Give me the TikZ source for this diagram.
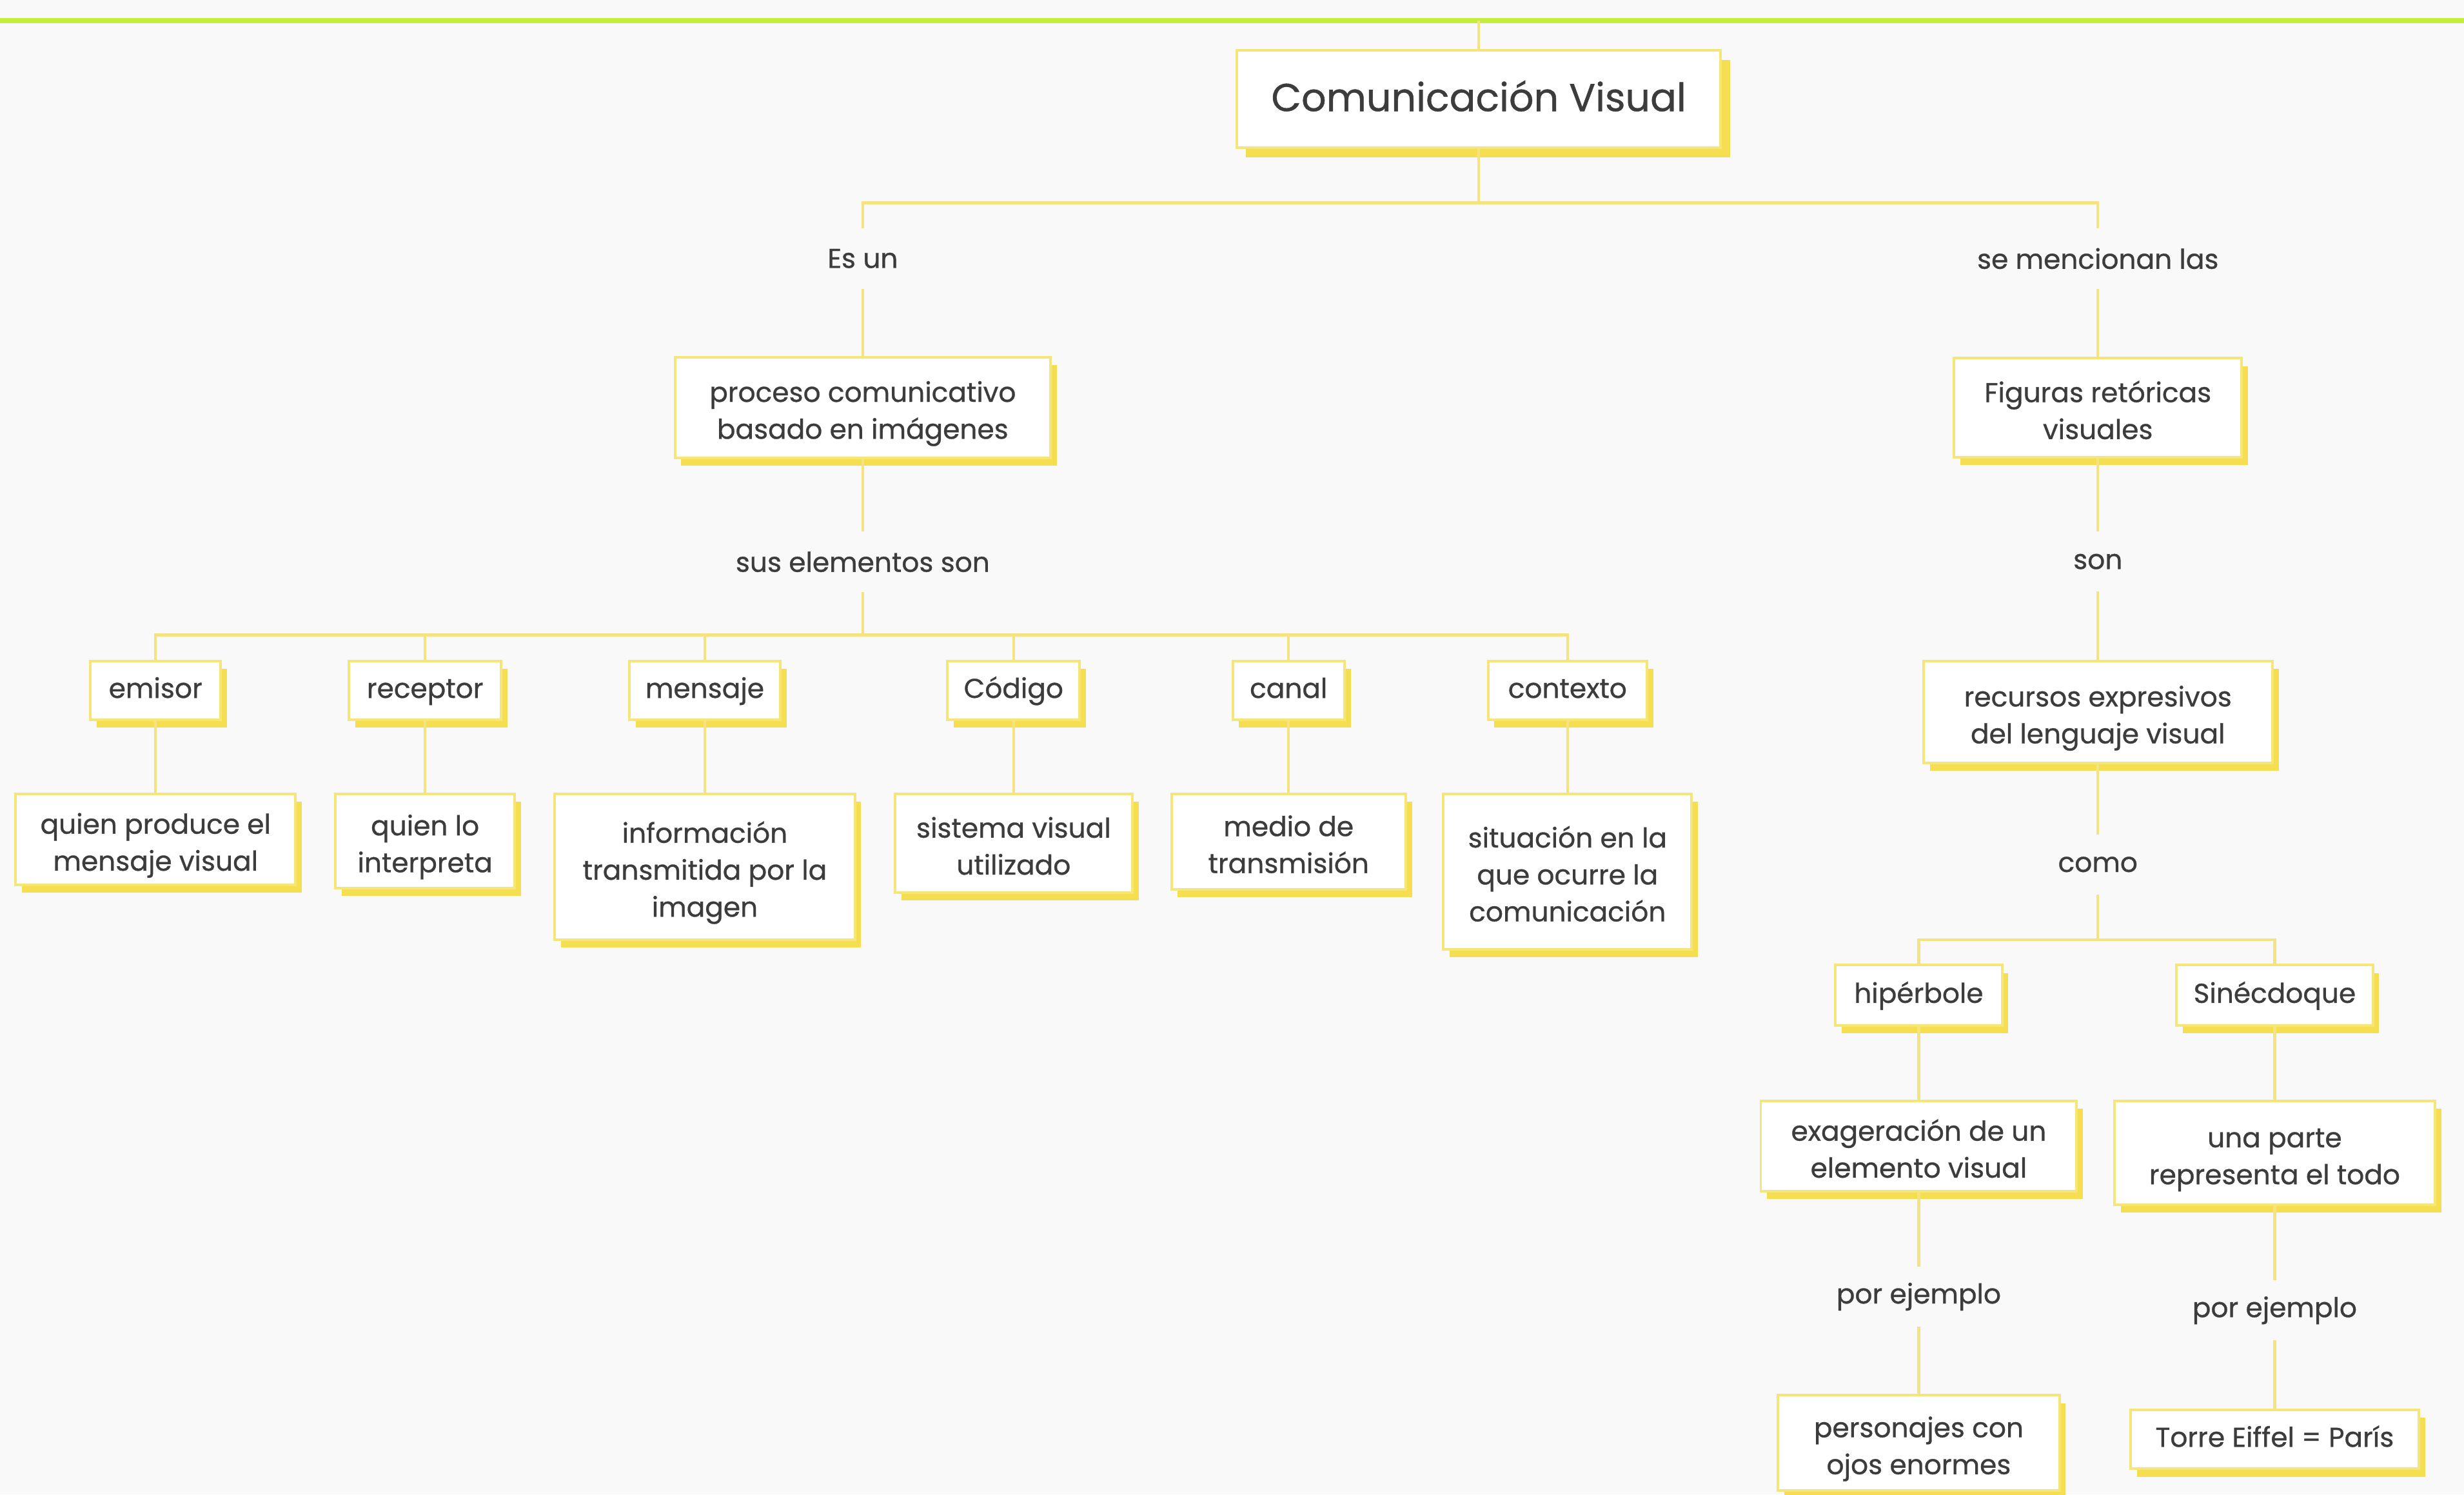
\documentclass[tikz,border=0pt]{standalone}
\usepackage{fontspec}
\setmainfont{Poppins}[FakeBold=0.7]
\usetikzlibrary{shadows}
\definecolor{bgc}{HTML}{F9F9F9}
\definecolor{limec}{HTML}{C4EE3E}
\definecolor{ybord}{HTML}{F6E578}
\definecolor{yshad}{HTML}{F5DE50}
\definecolor{yline}{HTML}{F5E381}
\definecolor{txtc}{HTML}{3C3C3C}
\newlength\refw
\newlength\refr
\AtBeginDocument{%
\settowidth{\refw}{\fontsize{10pt}{12pt}\selectfont proceso comunicativo}%
\settowidth{\refr}{\fontsize{10pt}{12pt}\selectfont Comunicación Visual}%
\pgfmathsetmacro\fsz{10*195/\refw}%
\pgfmathsetmacro\fszr{10*264/\refr}%
}
\newcommand\bstrut{\rule[-7pt]{0pt}{23.5pt}}
\newcommand\rstrut{\rule[-6.6pt]{0pt}{28.6pt}}
\newcommand\ml[1]{\begin{tabular}{@{}c@{}}\rule{0pt}{23.5pt}#1\end{tabular}}
\begin{document}
\begin{tikzpicture}[x=1pt,y=-1pt]
\tikzset{
  bodyfont/.style={font=\fontsize{\fsz pt}{23.5pt}\selectfont},
  box/.style={draw=ybord, line width=1.6pt, fill=white, text=txtc, align=center,
    inner sep=0pt, bodyfont,
    execute at begin node=\bstrut, execute at end node=\bstrut,
    drop shadow={fill=yshad, opacity=1, shadow xshift=4pt, shadow yshift=-5pt}},
  mbox/.style={draw=ybord, line width=1.6pt, fill=white, text=txtc,
    inner sep=0pt, bodyfont,
    drop shadow={fill=yshad, opacity=1, shadow xshift=4pt, shadow yshift=-5pt}},
  rootbox/.style={draw=ybord, line width=1.6pt, fill=white, text=txtc, align=center,
    inner sep=0pt, font=\fontsize{\fszr pt}{30pt}\selectfont,
    execute at begin node=\rstrut,
    drop shadow={fill=yshad, opacity=1, shadow xshift=6pt, shadow yshift=-6pt}},
  lab/.style={text=txtc, bodyfont, minimum height=38pt, inner sep=0pt, align=center},
  conn/.style={draw=yline, line width=1.8pt},
}
% background and page size
\fill[bgc] (0,0) rectangle (1568,951);
\useasboundingbox (0,0) rectangle (1568,951);
% top green line
\coordinate (gl) at (0,13);
\coordinate (gr) at (1568,13);
\draw[limec, line width=3.4pt] (gl) -- (gr);
\coordinate (g) at (941,13);

% root
\node[rootbox, minimum width=308pt, minimum height=62pt] (root) at (941,63) {Comunicación Visual};
\coordinate (j0) at (941,129);

% level 1
\node[lab] (lEs) at (549,164.5) {Es un};
\node[lab] (lSe) at (1335,164.5) {se mencionan las};
\node[mbox, minimum width=239pt, minimum height=64pt] (proc) at (549,259.2) {\ml{proceso comunicativo\\basado en imágenes}};
\node[mbox, minimum width=183pt, minimum height=63pt] (fig) at (1335,259.4) {\ml{Figuras retóricas\\visuales}};

% left branch
\node[lab] (lSus) at (549,357.5) {sus elementos son};
\coordinate (j1) at (549,404);
\node[box, minimum width=83pt, minimum height=37.5pt] (emisor) at (99,439.3) {emisor};
\node[box, minimum width=97pt, minimum height=37.5pt] (receptor) at (270.5,439.3) {receptor};
\node[box, minimum width=96pt, minimum height=37.5pt] (mensaje) at (448.5,439.3) {mensaje};
\node[box, minimum width=84pt, minimum height=37.5pt] (codigo) at (645,439.3) {Código};
\node[box, minimum width=71pt, minimum height=37.5pt] (canal) at (820,439.3) {canal};
\node[box, minimum width=101pt, minimum height=37.5pt] (contexto) at (997.5,439.3) {contexto};

\node[mbox, minimum width=178pt, minimum height=58pt] (c1) at (99,534) {\ml{quien produce el\\mensaje visual}};
\node[mbox, minimum width=114pt, minimum height=60pt] (c2) at (270.5,535) {\ml{quien lo\\interpreta}};
\node[mbox, minimum width=191pt, minimum height=93pt] (c3) at (448.5,551.5) {\ml{información\\transmitida por la\\imagen}};
\node[mbox, minimum width=151pt, minimum height=63pt] (c4) at (645,536.5) {\ml{sistema visual\\utilizado}};
\node[mbox, minimum width=149pt, minimum height=61pt] (c5) at (820,535.5) {\ml{medio de\\transmisión}};
\node[mbox, minimum width=158pt, minimum height=99pt] (c6) at (997.5,554.5) {\ml{situación en la\\que ocurre la\\comunicación}};

% right branch
\node[lab] (lSon) at (1335,357.3) {son};
\node[mbox, minimum width=222pt, minimum height=65pt] (rec) at (1335,453) {\ml{recursos expresivos\\del lenguaje visual}};
\node[lab] (lComo) at (1335,550) {como};
\coordinate (j2) at (1335,598);
\node[box, minimum width=106pt, minimum height=38.5pt] (hip) at (1221,633.3) {hipérbole};
\node[box, minimum width=125pt, minimum height=38.5pt] (sin) at (1447.5,633.3) {Sinécdoque};
\node[mbox, minimum width=201pt, minimum height=57.5pt] (exa) at (1221,729.3) {\ml{exageración de un\\elemento visual}};
\node[mbox, minimum width=204pt, minimum height=66pt] (par) at (1447.5,733.5) {\ml{una parte\\representa el todo}};
\node[lab] (lPorL) at (1221,825) {por ejemplo};
\node[lab] (lPorR) at (1447.5,833.7) {por ejemplo};
\node[mbox, minimum width=179pt, minimum height=60.5pt] (per) at (1221,918) {\ml{personajes con\\ojos enormes}};
\node[box, minimum width=183.5pt, minimum height=37.5pt] (tor) at (1447.5,915.8) {Torre Eiffel = París};

% connectors
\draw[conn] (g) -- (root.north);
\draw[conn] (root.south) -- (j0);
\draw[conn] (lEs.north) -- (lEs.north |- j0) -- (lSe.north |- j0) -- (lSe.north);
\draw[conn] (lEs.south) -- (proc.north);
\draw[conn] (lSe.south) -- (fig.north);
\draw[conn] (proc.south) -- (lSus.north);
\draw[conn] (lSus.south) -- (j1);
\draw[conn] (emisor.north) -- (emisor.north |- j1) -- (contexto.north |- j1) -- (contexto.north);
\foreach \n in {receptor,mensaje,codigo,canal}
  \draw[conn] (\n.north) -- (\n.north |- j1);
\draw[conn] (emisor.south) -- (c1.north);
\draw[conn] (receptor.south) -- (c2.north);
\draw[conn] (mensaje.south) -- (c3.north);
\draw[conn] (codigo.south) -- (c4.north);
\draw[conn] (canal.south) -- (c5.north);
\draw[conn] (contexto.south) -- (c6.north);
\draw[conn] (fig.south) -- (lSon.north);
\draw[conn] (lSon.south) -- (rec.north);
\draw[conn] (rec.south) -- (lComo.north);
\draw[conn] (lComo.south) -- (j2);
\draw[conn] (hip.north) -- (hip.north |- j2) -- (sin.north |- j2) -- (sin.north);
\draw[conn] (hip.south) -- (exa.north);
\draw[conn] (sin.south) -- (par.north);
\draw[conn] (exa.south) -- (lPorL.north);
\draw[conn] (lPorL.south) -- (per.north);
\draw[conn] (par.south) -- (lPorR.north);
\draw[conn] (lPorR.south) -- (tor.north);
\end{tikzpicture}
\end{document}
